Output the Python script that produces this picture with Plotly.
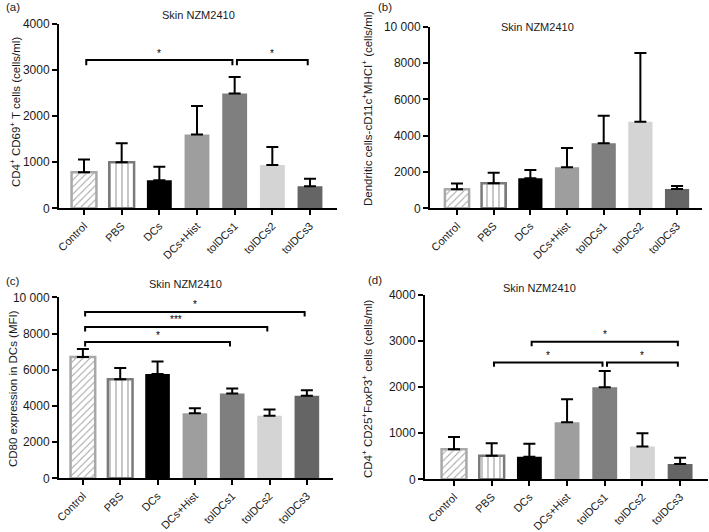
import plotly.graph_objects as go

groups = ["Control", "PBS", "DCs", "DCs+Hist", "tolDCs1", "tolDCs2", "tolDCs3"]

# (a) CD4+ CD69+ T cells
cd69_mean = [780, 1000, 610, 1600, 2490, 940, 480]
cd69_err = [280, 410, 290, 620, 360, 390, 160]
# (b) Dendritic cells
dc_mean = [1050, 1380, 1650, 2260, 3580, 4770, 1060]
dc_err = [310, 580, 460, 1060, 1520, 3780, 170]
# (c) CD80 expression
cd80_mean = [6700, 5470, 5760, 3600, 4680, 3450, 4560]
cd80_err = [450, 620, 690, 270, 280, 350, 300]
# (d) Treg
treg_mean = [650, 510, 490, 1240, 2000, 710, 330]
treg_err = [270, 270, 280, 500, 350, 290, 140]

# significance brackets: (from, to, height, label)
sig_a = [("Control", "tolDCs1", 3217, "*"), ("tolDCs1", "tolDCs3", 3217, "*")]
sig_c = [("Control", "tolDCs3", 9190, "*"), ("Control", "tolDCs2", 8360, "***"),
         ("Control", "tolDCs1", 7530, "*")]
sig_d = [("DCs", "tolDCs3", 2985, "*"), ("PBS", "tolDCs1", 2536, "*"),
         ("tolDCs1", "tolDCs3", 2536, "*")]

W, H = 709, 532
FONT = "Liberation Sans, Arial, sans-serif"
TXT = "#1a1a1a"

fill_colors = ["white", "white", "#000000", "#9e9e9e", "#7f7f7f", "#d4d4d4", "#656565"]
line_colors = ["#a8a8a8", "#7a7a7a", "#000000", "#9e9e9e", "#7f7f7f", "#d4d4d4", "#656565"]
line_widths = [2.5, 2.5, 0, 0, 0, 0, 0]
pat_shapes = ["/", "|", "", "", "", "", ""]
pat_fg = ["#c0c0c0", "#999999", "#000", "#000", "#000", "#000", "#000"]
pat_size = [5, 6, 6, 6, 6, 6, 6]

panels = [
    dict(name="a", data=(cd69_mean, cd69_err), xl=59, xr=337, yb=208.3, yt=24, ymax=4000,
         xr_rng=(-0.664, 6.717), tick=1000, ylabel="CD4<sup>+</sup> CD69<sup>+</sup> T cells (cells/ml)",
         ylab_x=15, ylab_y=112, title_xy=(198, 15), lab_xy=(4, 7), sig=sig_a, drop=110),
    dict(name="b", data=(dc_mean, dc_err), xl=430, xr=702, yb=208.3, yt=26.7, ymax=10000,
         xr_rng=(-0.736, 6.68), tick=2000, ylabel="Dendritic cells-cD11c<sup>+</sup>MHCI<sup>+</sup> (cells/ml)",
         ylab_x=367, ylab_y=109, title_xy=(537, 27), lab_xy=(376, 7), sig=[], drop=0),
    dict(name="c", data=(cd80_mean, cd80_err), xl=59, xr=333, yb=478.3, yt=297.3, ymax=10000,
         xr_rng=(-0.64, 6.7), tick=2000, ylabel="CD80 expression in DCs (MFI)",
         ylab_x=13, ylab_y=389, title_xy=(185, 284), lab_xy=(4, 281), sig=sig_c, drop=250),
    dict(name="d", data=(treg_mean, treg_err), xl=425, xr=708, yb=479.3, yt=295, ymax=4000,
         xr_rng=(-0.77, 6.74), tick=1000, ylabel="CD4<sup>+</sup> CD25<sup>+</sup>FoxP3<sup>+</sup> cells (cells/ml)",
         ylab_x=367, ylab_y=389, title_xy=(539, 288), lab_xy=(366, 280), sig=sig_d, drop=95),
]

fig = go.Figure()
layout = dict(width=W, height=H, margin=dict(l=0, r=0, t=0, b=0), showlegend=False,
              plot_bgcolor="white", paper_bgcolor="white",
              font=dict(family=FONT, size=11, color=TXT))
annotations = []
shapes = []
xpos = list(range(len(groups)))

for i, p in enumerate(panels):
    sfx = "" if i == 0 else str(i + 1)
    xa, ya = "x" + sfx, "y" + sfx
    mean, err = p["data"]
    fig.add_trace(go.Bar(
        x=xpos, y=mean, xaxis=xa, yaxis=ya, width=0.66,
        marker=dict(color=fill_colors, line=dict(color=line_colors, width=line_widths),
                    pattern=dict(shape=pat_shapes, fgcolor=pat_fg, bgcolor="white",
                                 size=pat_size, solidity=0.2)),
        error_y=dict(type="data", symmetric=False, array=err, arrayminus=[0] * len(err),
                     color="black", thickness=2, width=6),
        hoverinfo="skip",
    ))
    tickvals = list(range(0, p["ymax"] + 1, p["tick"]))
    ticktext = [("10 000" if v == 10000 else str(v)) for v in tickvals]
    layout["xaxis" + sfx] = dict(
        domain=[p["xl"] / W, p["xr"] / W], range=list(p["xr_rng"]), anchor=ya,
        tickvals=xpos, ticktext=groups, tickangle=-45, ticks="outside", ticklen=5,
        tickwidth=2, tickcolor="black", showline=True, linecolor="black", linewidth=2,
        showgrid=False, zeroline=False, automargin=False,
        tickfont=dict(size=11, family=FONT, color=TXT), fixedrange=True)
    layout["yaxis" + sfx] = dict(
        domain=[1 - p["yb"] / H, 1 - p["yt"] / H], range=[0, p["ymax"]], anchor=xa,
        tickvals=tickvals, ticktext=ticktext, ticks="outside", ticklen=5, tickwidth=2,
        tickcolor="black", showline=True, linecolor="black", linewidth=2,
        showgrid=False, zeroline=False, automargin=False,
        tickfont=dict(size=12, family=FONT, color=TXT), fixedrange=True)
    annotations.append(dict(text=p["ylabel"], x=p["ylab_x"] / W, y=1 - p["ylab_y"] / H,
                            xref="paper", yref="paper", textangle=-90, showarrow=False,
                            font=dict(size=11.5, family=FONT, color=TXT),
                            xanchor="center", yanchor="middle"))
    annotations.append(dict(text="Skin NZM2410", x=p["title_xy"][0] / W, y=1 - p["title_xy"][1] / H,
                            xref="paper", yref="paper", showarrow=False,
                            font=dict(size=11, family=FONT, color=TXT),
                            xanchor="center", yanchor="middle"))
    annotations.append(dict(text="(" + p["name"] + ")", x=p["lab_xy"][0] / W, y=1 - p["lab_xy"][1] / H,
                            xref="paper", yref="paper", showarrow=False,
                            font=dict(size=11.5, family=FONT, color=TXT),
                            xanchor="left", yanchor="middle"))
    for (g1, g2, yb, lab) in p["sig"]:
        x1 = groups.index(g1) + 0.06
        x2 = groups.index(g2) - 0.06
        path = "M {0},{1} L {0},{2} L {3},{2} L {3},{1}".format(x1, yb - p["drop"], yb, x2)
        shapes.append(dict(type="path", path=path, xref=xa, yref=ya,
                           line=dict(color="black", width=2)))
        annotations.append(dict(text=lab, x=(x1 + x2) / 2, y=yb, xref=xa, yref=ya,
                                showarrow=False, yshift=7, xanchor="center", yanchor="middle",
                                font=dict(size=10, family=FONT, color="#000000")))

layout["annotations"] = annotations
layout["shapes"] = shapes
fig.update_layout(**layout)
fig.write_html("out.html", config={"displayModeBar": False},
               post_script="document.body.style.margin='0';document.body.style.overflow='hidden';")
